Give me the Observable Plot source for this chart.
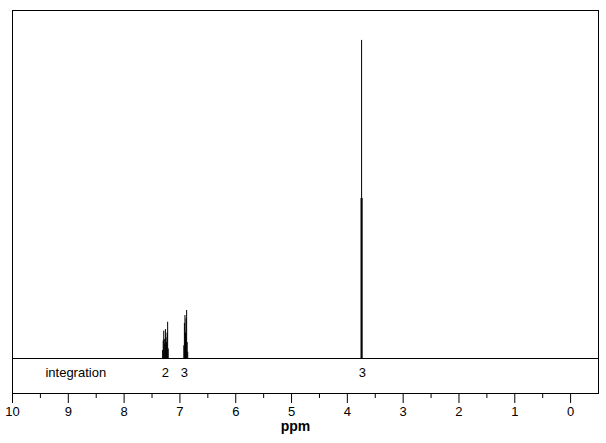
<!DOCTYPE html>
<html>
<head>
<meta charset="utf-8">
<script src="https://cdn.jsdelivr.net/npm/d3@7"></script>
<script src="https://cdn.jsdelivr.net/npm/@observablehq/plot@0.6"></script>
<style>
  html, body { margin: 0; padding: 0; background: white; }
</style>
</head>
<body>
<div id="chart"></div>
<script>
// Peak positions (ppm) and intensities (relative, tallest = 100)
const peakPpm = [7.31, 7.30, 7.29, 7.28, 7.27, 7.26, 7.25, 7.24, 7.23, 7.22, 7.21,
                 6.93, 6.92, 6.91, 6.90, 6.89, 6.88, 6.87, 6.86,
                 3.755, 3.745, 3.735];
const peakIntensity = [2.5, 5.5, 8.6, 6.0, 4.5, 9.1, 6.5, 5.0, 8.0, 11.4, 3.0,
                       4.0, 11.0, 13.5, 8.0, 12.5, 15.1, 5.0, 2.0,
                       50.3, 100, 50.3];

// Integration row
const integrationPpm = [7.26, 6.92, 3.73];
const integrationLabels = ["2", "3", "3"];
const integrationTitle = ["integration"];
const integrationTitlePpm = [9.41];

// Axis ticks
const majorTicks = [10, 9, 8, 7, 6, 5, 4, 3, 2, 1, 0];
const minorTicks = [9.5, 8.5, 7.5, 6.5, 5.5, 4.5, 3.5, 2.5, 1.5, 0.5];
const axisTitle = ["ppm"];

const peaks = peakPpm.map((p, i) => ({ppm: p, h: peakIntensity[i]}));
const integ = integrationPpm.map((p, i) => ({ppm: p, label: integrationLabels[i]}));

const font = "Liberation Sans, Arial, sans-serif";

const chart = Plot.plot({
  width: 606,
  height: 443,
  marginLeft: 12,
  marginRight: 8,
  marginTop: 10,
  marginBottom: 50,
  style: {fontFamily: font, fontSize: "13px", color: "black", background: "white"},
  x: {domain: [10, -0.5], axis: null},
  y: {domain: [-11, 109.4], axis: null},
  marks: [
    Plot.frame({stroke: "black", strokeWidth: 1}),
    Plot.ruleY([0], {stroke: "black", strokeWidth: 1}),
    Plot.ruleX(peaks, {x: "ppm", y1: 0, y2: "h", stroke: "black", strokeWidth: 1}),
    Plot.text(integ, {x: "ppm", y: -4.4, text: "label", fontSize: 13, fill: "black"}),
    Plot.text(integrationTitle, {x: integrationTitlePpm, y: -4.4, text: d => d, textAnchor: "start", fontSize: 13, fill: "black"}),
    Plot.axisX({ticks: majorTicks, tickSize: 10, tickPadding: 3, tickFormat: d => String(d), label: null, fontSize: 13, stroke: "black"}),
    Plot.axisX({ticks: minorTicks, tickSize: 5, tickFormat: () => "", label: null, stroke: "black"}),
    Plot.text(axisTitle, {frameAnchor: "bottom", dx: -10, dy: 37, text: d => d, fontWeight: "bold", fontSize: 14, fill: "black"})
  ]
});
document.getElementById("chart").appendChild(chart);
</script>
</body>
</html>
